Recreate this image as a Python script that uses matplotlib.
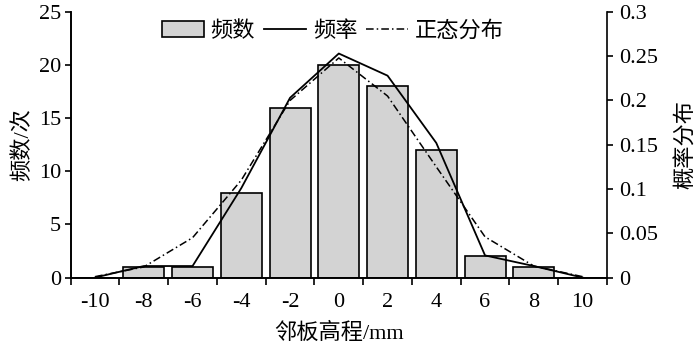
import numpy as np
import matplotlib.pyplot as plt

plt.rcParams['font.family'] = ['Liberation Serif', 'Noto Sans CJK SC']
plt.rcParams['font.size'] = 16

# 数据
categories = ['-10', '-8', '-6', '-4', '-2', '0', '2', '4', '6', '8', '10']
counts = [0, 1, 1, 8, 16, 20, 18, 12, 2, 1, 0]
freq = [0.0, 0.013, 0.013, 0.101, 0.203, 0.253, 0.228, 0.152, 0.025, 0.013, 0.0]
normal = [0.001, 0.012, 0.045, 0.11, 0.20, 0.248, 0.205, 0.125, 0.046, 0.013, 0.001]

x = np.arange(len(categories))

fig = plt.figure(figsize=(7, 3.5), dpi=100)
ax = fig.add_axes([0.101, 0.207, 0.766, 0.759])
ax2 = ax.twinx()

bars = ax.bar(x, counts, width=0.84, color='#d3d3d3', edgecolor='black', linewidth=1.2, label='频数')
l1, = ax2.plot(x, freq, color='black', linewidth=1.3, label='频率')
l2, = ax2.plot(x, normal, color='black', linewidth=1.1, dashes=(5, 2, 1, 2), label='正态分布')

ax.set_xlim(-0.5, len(categories) - 0.5)
ax.set_ylim(0, 25)
ax2.set_ylim(0, 0.3)
ax.set_yticks(range(0, 26, 5))
ax2.set_yticks([0, 0.05, 0.1, 0.15, 0.2, 0.25, 0.3])
ax2.set_yticklabels(['0', '0.05', '0.1', '0.15', '0.2', '0.25', '0.3'])

ax.set_xticks(x)
ax.set_xticklabels(categories)
ax.set_xticks(np.arange(-0.5, len(categories)), minor=True)
ax.tick_params(axis='x', which='major', length=0, pad=11)
ax.tick_params(axis='x', which='minor', length=5, width=1.2, direction='out')
ax.tick_params(axis='y', length=4, width=1.2, direction='out', pad=3)
ax2.tick_params(axis='y', length=4, width=1.2, direction='out', pad=5)

for a in (ax, ax2):
    a.spines['top'].set_visible(False)
    for s in ('left', 'right', 'bottom'):
        a.spines[s].set_linewidth(1.2)
ax.spines['right'].set_visible(False)

ax.set_ylabel('频数/次', labelpad=4)
ax2.set_ylabel('概率分布', labelpad=12)
ax.set_xlabel('邻板高程/mm', labelpad=8)

ax2.legend([bars, l1, l2], ['频数', '频率', '正态分布'], loc='upper center',
           bbox_to_anchor=(0.489, 1.04), ncol=3, frameon=False, handlelength=1.9,
           handletextpad=0.3, columnspacing=0.4, fontsize=16)

plt.savefig('out.png', dpi=100)
